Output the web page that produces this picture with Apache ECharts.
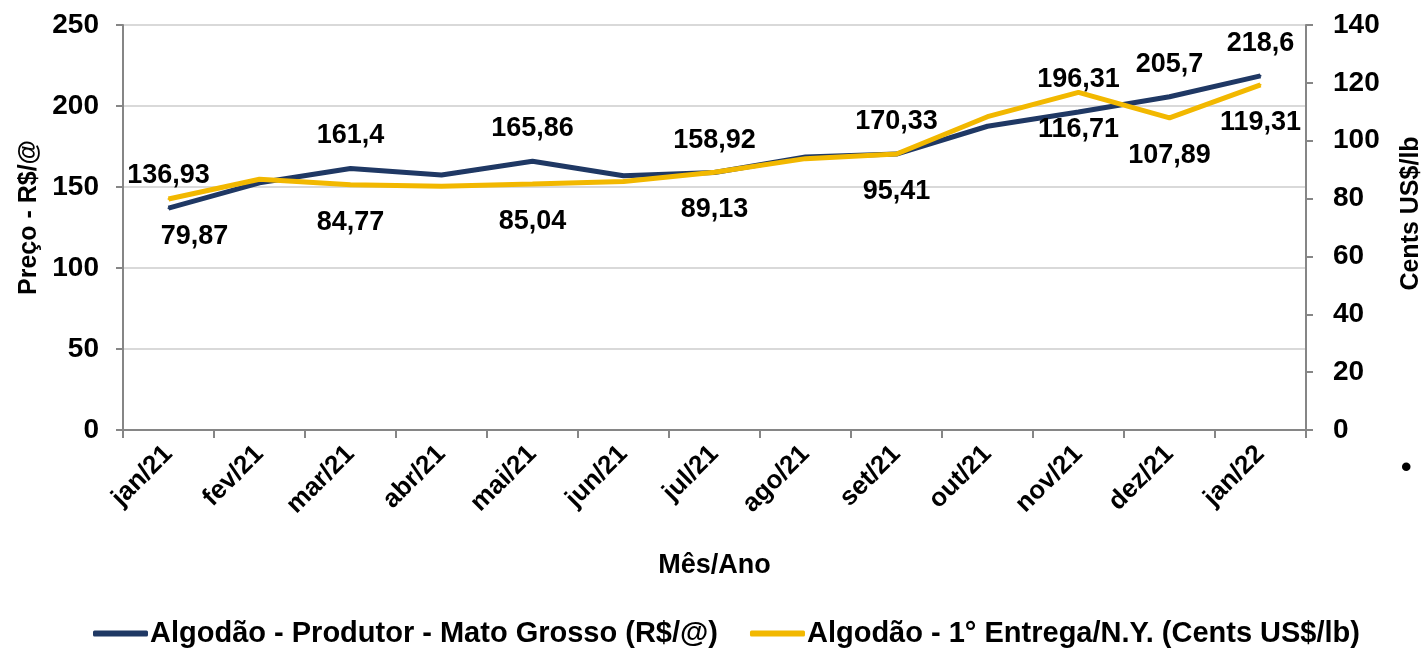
<!DOCTYPE html>
<html>
<head>
<meta charset="utf-8">
<script src="https://cdn.jsdelivr.net/npm/echarts@6/dist/echarts.min.js"></script>
<style>
html,body{margin:0;padding:0;background:#fff;}
#chart{width:1421px;height:651px;}
</style>
</head>
<body>
<div id="chart"></div>
<script>
var categories = ['jan/21','fev/21','mar/21','abr/21','mai/21','jun/21','jul/21','ago/21','set/21','out/21','nov/21','dez/21','jan/22'];
var produtorMT = [136.93, 152.6, 161.4, 157.4, 165.86, 157.0, 158.92, 168.5, 170.33, 187.5, 196.31, 205.7, 218.6];
var entregaNY = [79.87, 86.7, 84.77, 84.3, 85.04, 85.9, 89.13, 93.8, 95.41, 108.3, 116.71, 107.89, 119.31];
var labeledMonths = ['jan/21','mar/21','mai/21','jul/21','set/21','nov/21','dez/21','jan/22'];
var leftTicks = {min: 0, max: 250, interval: 50};
var rightTicks = {min: 0, max: 140, interval: 20};
var seriesNames = ['Algodão - Produtor - Mato Grosso (R$/@)', 'Algodão - 1° Entrega/N.Y. (Cents US$/lb)'];

var FONT = '"Liberation Sans", Arial, sans-serif';
var NAVY = '#1F3864';
var GOLD = '#F2B800';
var AXIS = '#868686';

function fmt(v){ return String(v).replace('.', ','); }

function buildData(values, extra){
  return values.map(function(v, i){
    var show = labeledMonths.indexOf(categories[i]) >= 0;
    var item = {value: v, label: {show: show}};
    if (extra && extra[i]) { item.label = Object.assign(item.label, extra[i]); }
    return item;
  });
}

var chart = echarts.init(document.getElementById('chart'), null, {renderer: 'canvas'});
var labelStyle = {fontFamily: FONT, fontWeight: 'bold', fontSize: 27, color: '#000'};

var option = {
  backgroundColor: '#fff',
  animation: false,
  grid: {left: 123, right: 115, top: 25, bottom: 221, containLabel: false, outerBoundsMode: 'none'},
  legend: {
    top: 614,
    left: 88,
    itemWidth: 55,
    itemHeight: 6,
    itemGap: 32,
    icon: 'roundRect',
    textStyle: {fontFamily: FONT, fontWeight: 'bold', fontSize: 29, color: '#000', padding: [0,0,0,-3]},
    data: seriesNames
  },
  xAxis: {
    type: 'category',
    data: categories,
    boundaryGap: true,
    name: 'Mês/Ano',
    nameLocation: 'middle',
    nameGap: 122,
    nameTextStyle: {fontFamily: FONT, fontWeight: 'bold', fontSize: 27, color: '#000'},
    axisLine: {lineStyle: {color: AXIS, width: 2}},
    axisTick: {show: true, alignWithLabel: false, length: 8, lineStyle: {color: AXIS, width: 2}},
    axisLabel: {rotate: 45, margin: 20, fontFamily: FONT, fontWeight: 'bold', fontSize: 26, color: '#000'},
    splitLine: {show: false}
  },
  yAxis: [
    {
      type: 'value',
      position: 'left',
      min: leftTicks.min, max: leftTicks.max, interval: leftTicks.interval,
      name: 'Preço - R$/@',
      nameLocation: 'middle',
      nameGap: 81,
      nameTextStyle: {fontFamily: FONT, fontWeight: 'bold', fontSize: 25, color: '#000', padding: [0,0,0,20]},
      axisLine: {show: true, lineStyle: {color: AXIS, width: 2}},
      axisTick: {show: true, length: 7, lineStyle: {color: AXIS, width: 2}},
      axisLabel: {margin: 24, fontFamily: FONT, fontWeight: 'bold', fontSize: 28, color: '#000'},
      splitLine: {show: true, lineStyle: {color: '#D9D9D9', width: 2}}
    },
    {
      type: 'value',
      position: 'right',
      min: rightTicks.min, max: rightTicks.max, interval: rightTicks.interval,
      name: 'Cents US$/lb',
      nameLocation: 'middle',
      nameGap: 93,
      nameTextStyle: {fontFamily: FONT, fontWeight: 'bold', fontSize: 25, color: '#000', padding: [0,0,0,28]},
      axisLine: {show: true, lineStyle: {color: AXIS, width: 2}},
      axisTick: {show: true, length: 7, lineStyle: {color: AXIS, width: 2}},
      axisLabel: {margin: 27, fontFamily: FONT, fontWeight: 'bold', fontSize: 28, color: '#000'},
      splitLine: {show: false}
    }
  ],
  series: [
    {
      name: seriesNames[0],
      type: 'line',
      yAxisIndex: 0,
      data: buildData(produtorMT),
      symbol: 'circle',
      symbolSize: 2,
      showSymbol: true,
      lineStyle: {color: NAVY, width: 5},
      itemStyle: {color: NAVY},
      label: Object.assign({position: 'top', distance: 18, formatter: function(p){ return fmt(p.value); }}, labelStyle),
      z: 3
    },
    {
      name: seriesNames[1],
      type: 'line',
      yAxisIndex: 1,
      data: buildData(entregaNY, {0: {offset: [26, 0]}}),
      symbol: 'circle',
      symbolSize: 2,
      showSymbol: true,
      lineStyle: {color: GOLD, width: 5},
      itemStyle: {color: GOLD},
      label: Object.assign({position: 'bottom', distance: 23, formatter: function(p){ return fmt(p.value); }}, labelStyle),
      z: 4
    }
  ],
  graphic: [
    {type: 'text', left: 1401, top: 454, style: {text: '•', fontFamily: FONT, fontWeight: 'bold', fontSize: 30, fill: '#000'}}
  ]
};
chart.setOption(option);
</script>
</body>
</html>
